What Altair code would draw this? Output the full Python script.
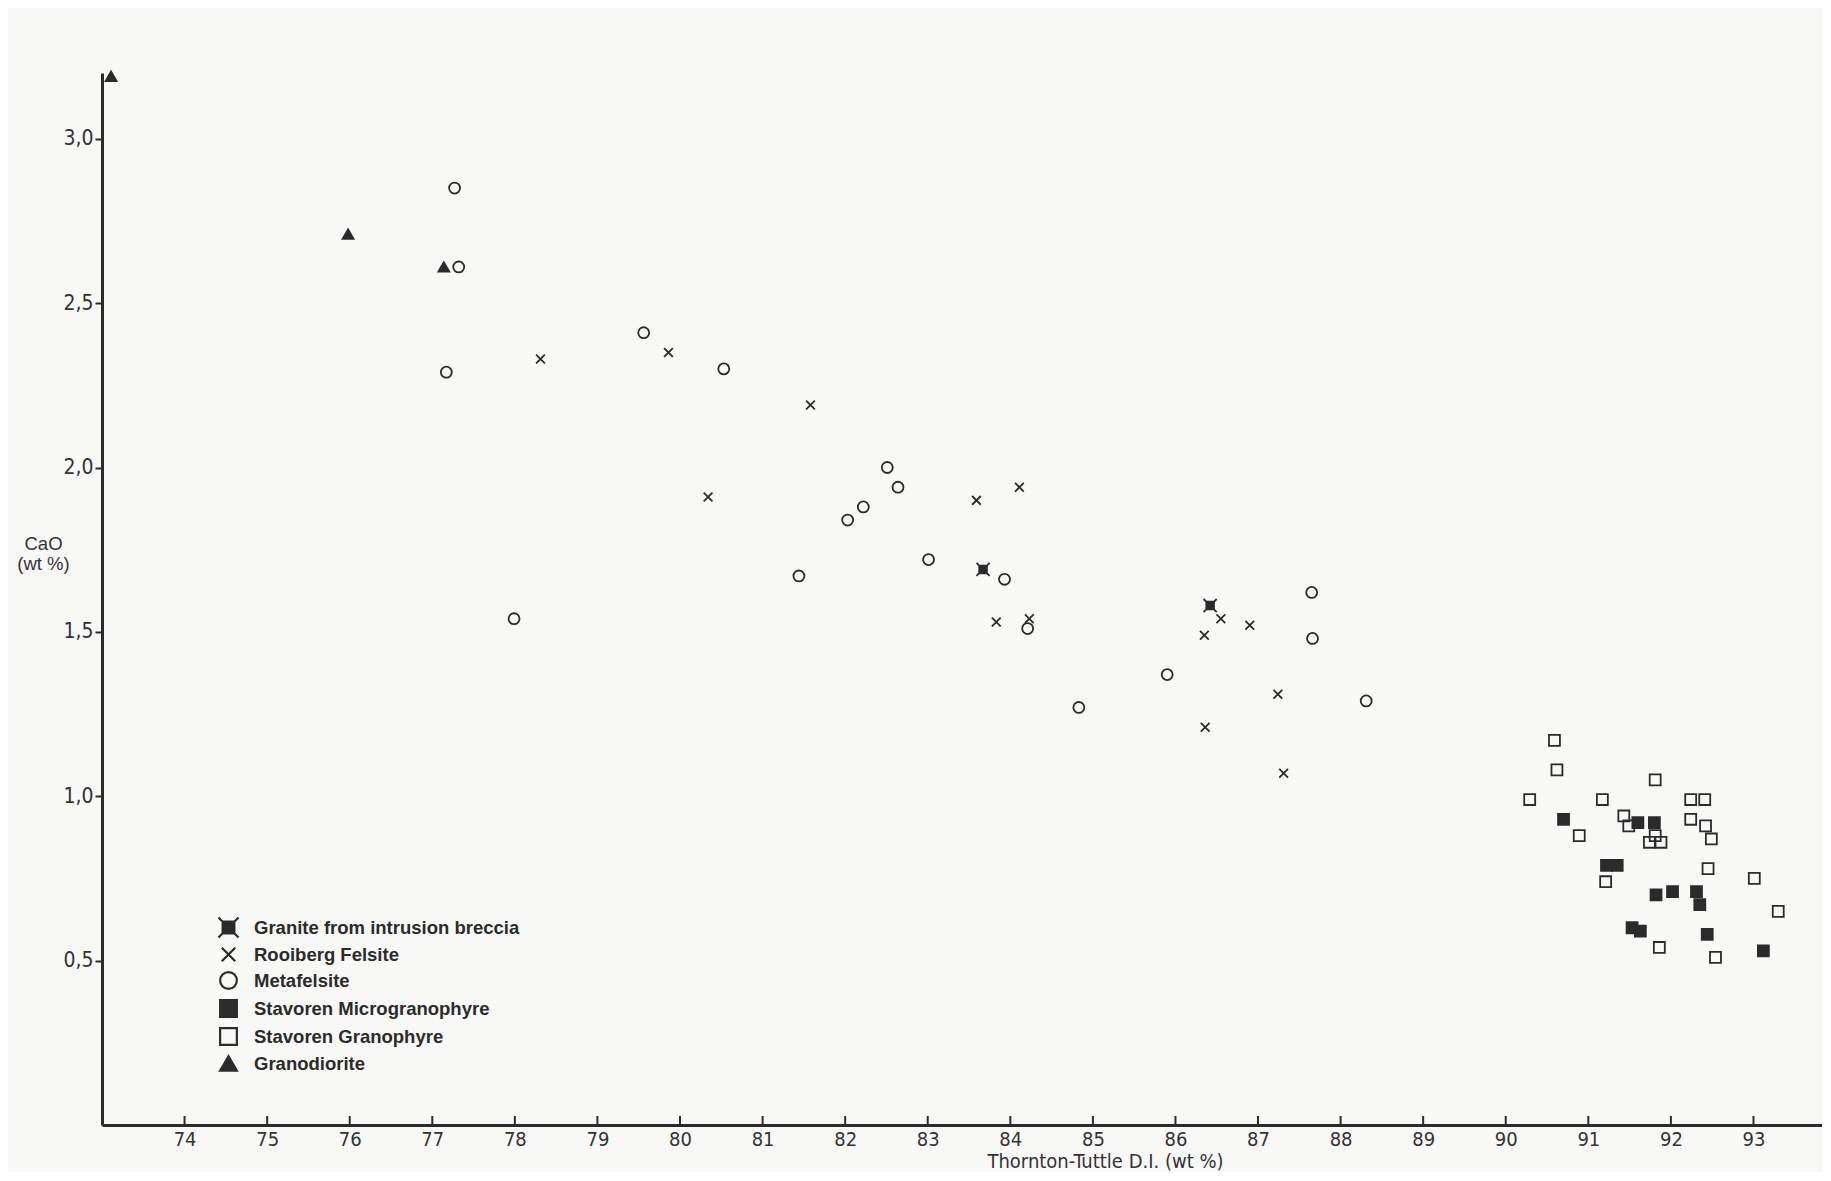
import altair as alt
import pandas as pd

# ---------------- data ----------------
categories = [
    "Granite from intrusion breccia",
    "Rooiberg Felsite",
    "Metafelsite",
    "Stavoren Microgranophyre",
    "Stavoren Granophyre",
    "Granodiorite",
]

granite_x = [83.67, 86.42]
granite_y = [1.69, 1.58]

rooiberg_x = [78.31, 79.86, 81.58, 80.34, 83.59, 84.11, 83.83, 84.23, 86.35, 86.55, 86.90, 87.24, 86.36, 87.31]
rooiberg_y = [2.33, 2.35, 2.19, 1.91, 1.90, 1.94, 1.53, 1.54, 1.49, 1.54, 1.52, 1.31, 1.21, 1.07]

meta_x = [77.27, 77.32, 77.17, 79.56, 80.53, 77.99, 82.51, 82.22, 82.64, 82.03, 81.44, 83.01, 83.93, 84.21, 84.83, 85.90, 87.65, 87.66, 88.31]
meta_y = [2.85, 2.61, 2.29, 2.41, 2.30, 1.54, 2.00, 1.88, 1.94, 1.84, 1.67, 1.72, 1.66, 1.51, 1.27, 1.37, 1.62, 1.48, 1.29]

micro_x = [90.70, 91.60, 91.80, 91.22, 91.35, 91.82, 92.02, 92.31, 92.35, 91.53, 91.63, 92.44, 93.12]
micro_y = [0.93, 0.92, 0.92, 0.79, 0.79, 0.70, 0.71, 0.71, 0.67, 0.60, 0.59, 0.58, 0.53]

grano_x = [90.59, 90.62, 90.29, 91.17, 91.81, 92.24, 92.41, 91.43, 91.49, 92.24, 92.42, 92.49, 91.74, 91.88,
           91.81, 90.89, 91.21, 92.45, 93.01, 93.30, 91.86, 92.54]
grano_y = [1.17, 1.08, 0.99, 0.99, 1.05, 0.99, 0.99, 0.94, 0.91, 0.93, 0.91, 0.87, 0.86, 0.86,
           0.88, 0.88, 0.74, 0.78, 0.75, 0.65, 0.54, 0.51]

granodiorite_x = [73.11, 75.98, 77.14]
granodiorite_y = [3.19, 2.71, 2.61]

x_ticks = list(range(74, 94))
y_ticks = [0.5, 1.0, 1.5, 2.0, 2.5, 3.0]

# ---------------- table ----------------
series = [
    (categories[0], granite_x, granite_y),
    (categories[1], rooiberg_x, rooiberg_y),
    (categories[2], meta_x, meta_y),
    (categories[3], micro_x, micro_y),
    (categories[4], grano_x, grano_y),
    (categories[5], granodiorite_x, granodiorite_y),
]
rows = []
for name, xs, ys in series:
    for xv, yv in zip(xs, ys):
        rows.append({"rock": name, "di": xv, "cao": yv})
df = pd.DataFrame(rows)
tick_df = pd.DataFrame({"di": x_ticks})

INK = "#2b2b2b"
NUM_FONT = "Liberation Sans Narrow, DejaVu Sans Condensed, Arial Narrow, sans-serif"
TXT_FONT = "Liberation Sans, Arial, Helvetica, sans-serif"

shapes = [
    "M-0.7,-0.7L0.7,-0.7L0.7,0.7L-0.7,0.7Z M-1.2,-1.2L1.2,1.2 M1.2,-1.2L-1.2,1.2",
    "M-0.8,-0.8L0.8,0.8M0.8,-0.8L-0.8,0.8",
    "circle",
    "square",
    "square",
    "triangle-up",
]
fills = [INK, "transparent", "transparent", INK, "transparent", INK]

PLOT_W = 1720
PLOT_H = 1052

xscale = alt.Scale(domain=[73, 93.83], nice=False, zero=False)
yscale = alt.Scale(domain=[0, 3.2], nice=False, zero=False)

x_axis = alt.Axis(
    values=x_ticks,
    format="d",
    ticks=False,
    grid=False,
    domainColor=INK,
    domainWidth=3,
    labelFont=NUM_FONT,
    labelFontSize=20,
    labelColor="#333333",
    labelPadding=4,
    labelFlush=False,
    title="Thornton-Tuttle D.I. (wt %)",
    titleFont=NUM_FONT,
    titleFontSize=20,
    titleFontWeight="normal",
    titleColor="#333333",
    titleX=1003,
    titleY=36,
    titleAlign="center",
    titleBaseline="middle",
)

points = alt.Chart(df).mark_point(opacity=1, strokeWidth=1.8, size=120).encode(
    x=alt.X("di:Q", scale=xscale, axis=x_axis),
    y=alt.Y(
        "cao:Q",
        scale=yscale,
        axis=alt.Axis(
            values=y_ticks,
            labelExpr="replace(format(datum.value, '.1f'), '.', ',')",
            grid=False,
            tickSize=7,
            tickWidth=2,
            tickColor=INK,
            domainColor=INK,
            domainWidth=3,
            labelFont=NUM_FONT,
            labelFontSize=21,
            labelColor="#333333",
            labelPadding=2,
            title=["CaO", "(wt %)"],
            titleFont=TXT_FONT,
            titleFontSize=18.5,
            titleFontWeight="normal",
            titleColor="#333333",
            titleAngle=0,
            titleX=-59,
            titleY=470,
            titleAlign="center",
            titleBaseline="middle",
            titleLineHeight=20,
        ),
    ),
    shape=alt.Shape("rock:N", scale=alt.Scale(domain=categories, range=shapes), legend=alt.Legend(title=None)),
    fill=alt.Fill("rock:N", scale=alt.Scale(domain=categories, range=fills), legend=alt.Legend(title=None)),
    stroke=alt.Stroke("rock:N", scale=alt.Scale(domain=categories, range=[INK] * 6), legend=alt.Legend(title=None)),
)

ticks = alt.Chart(tick_df).mark_rule(color=INK, strokeWidth=2).encode(
    x=alt.X("di:Q", scale=xscale, axis=x_axis),
    y=alt.value(PLOT_H - 9),
    y2=alt.value(PLOT_H),
)

chart = (
    alt.layer(points, ticks)
    .properties(
        width=PLOT_W,
        height=PLOT_H,
        background="#f8f8f7",
        autosize=alt.AutoSizeParams(type="none"),
        padding={"left": 94, "top": 65, "right": 0, "bottom": 47},
    )
    .configure_view(strokeWidth=0)
    .configure_legend(
        orient="none",
        legendX=117,
        legendY=845,
        padding=0,
        symbolSize=280,
        symbolStrokeWidth=2.2,
        labelFont=TXT_FONT,
        labelFontSize=18.5,
        labelFontWeight="bold",
        labelColor=INK,
        labelOffset=16,
        rowPadding=1,
        labelLimit=500,
    )
)

chart.save("out.html", embed_options={"renderer": "svg", "actions": False})
